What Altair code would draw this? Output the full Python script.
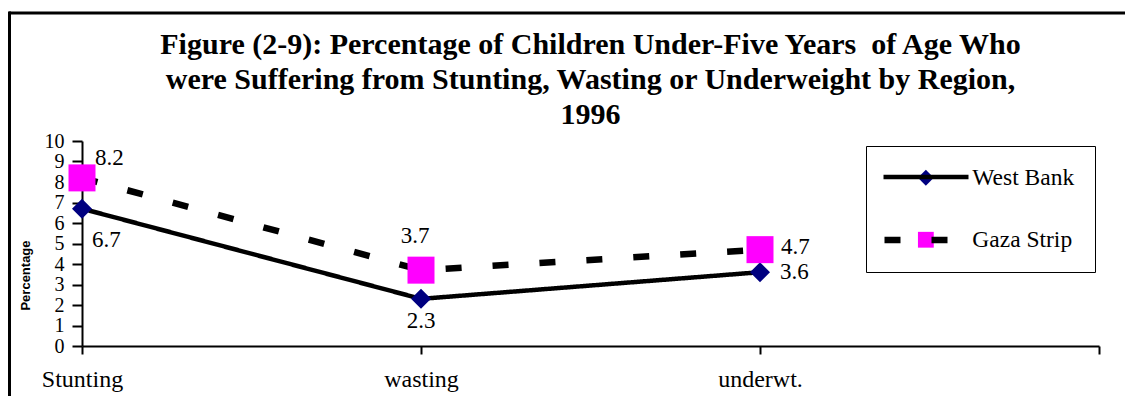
import altair as alt
import pandas as pd

categories = ["Stunting", "wasting", "underwt."]
west_bank = [6.7, 2.3, 3.6]
gaza_strip = [8.2, 3.7, 4.7]
series_names = ["West Bank", "Gaza Strip"]
y_ticks = [0, 1, 2, 3, 4, 5, 6, 7, 8, 9, 10]
title_lines = [
    "Figure (2-9): Percentage of Children Under-Five Years \u00a0of Age Who",
    "were Suffering from Stunting, Wasting or Underweight by Region,",
    "1996",
]

rows = []
for i, c in enumerate(categories):
    rows.append({"category": c, "series": series_names[0], "value": west_bank[i]})
    rows.append({"category": c, "series": series_names[1], "value": gaza_strip[i]})
df = pd.DataFrame(rows)

SERIF = "Liberation Serif, Times New Roman, serif"
SANS = "Liberation Sans, Arial, sans-serif"
W, H = 1017, 205

x_enc = alt.X(
    "category:N",
    scale=alt.Scale(type="point", domain=categories + [""], padding=0),
    axis=alt.Axis(title=None, labelAngle=0, labelFont=SERIF, labelFontSize=24,
                  labelColor="black", tickSize=8, tickWidth=2, tickColor="black",
                  domainColor="black", domainWidth=2, labelPadding=13, grid=False,
                  labelOverlap=False),
)
y_enc = alt.Y(
    "value:Q",
    scale=alt.Scale(domain=[0, 10], nice=False, zero=True),
    axis=alt.Axis(title="Percentage", values=y_ticks, labelFont=SERIF, labelFontSize=20,
                  labelColor="black", tickSize=10, tickWidth=2, tickColor="black",
                  domainColor="black", domainWidth=2, labelPadding=8, grid=False,
                  labelOverlap=False, labelBound=False,
                  titleFont=SANS, titleFontSize=13, titleFontWeight="bold",
                  titleColor="black", titleAngle=-90, titleX=-57, titleY=134,
                  titleAlign="center", titleBaseline="middle"),
)

base = alt.Chart(df)


def line_layer(name, dash, width, lx, ly):
    return base.transform_filter(alt.datum.series == name).mark_line(
        color="black", strokeWidth=width
    ).encode(
        x=x_enc,
        y=y_enc,
        strokeDash=alt.StrokeDash(
            "series:N",
            scale=alt.Scale(domain=[name], range=[dash]),
            legend=alt.Legend(orient="none", legendX=lx, legendY=ly, title=None,
                              padding=0, symbolType="stroke", symbolSize=85 * 85,
                              symbolStrokeColor="black", symbolStrokeWidth=width,
                              labelExpr="''", labelFontSize=21),
        ),
    )


pt_legend = alt.Legend(orient="none", legendX=784, legendY=5, title=None,
                       strokeColor="black", fillColor="white", padding=20,
                       symbolSize=250, symbolStrokeWidth=0, symbolOffset=28.1,
                       labelFont=SERIF, labelFontSize=23.5, labelColor="black",
                       labelOffset=34.7, rowPadding=37)


def point_layer(name, size):
    return base.transform_filter(alt.datum.series == name).mark_point(
        filled=True, size=size, opacity=1
    ).encode(
        x=x_enc,
        y=y_enc,
        shape=alt.Shape("series:N",
                        scale=alt.Scale(domain=series_names, range=["diamond", "square"]),
                        legend=pt_legend),
        fill=alt.Fill("series:N",
                      scale=alt.Scale(domain=series_names, range=["#000080", "#FF00FF"]),
                      legend=pt_legend),
    )


def label_layer(name, cat, align, dx, dy):
    return base.transform_filter(
        (alt.datum.series == name) & (alt.datum.category == cat)
    ).mark_text(font=SERIF, fontSize=23, color="black", align=align,
                baseline="middle", dx=dx, dy=dy).encode(
        x=x_enc, y=y_enc, text=alt.Text("value:Q", format=".1f")
    )


labels = [
    label_layer("Gaza Strip", "Stunting", "left", 13, -20),
    label_layer("West Bank", "Stunting", "left", 10, 31),
    label_layer("Gaza Strip", "wasting", "center", -6, -34),
    label_layer("West Bank", "wasting", "center", 0, 22),
    label_layer("Gaza Strip", "underwt.", "left", 21, -3),
    label_layer("West Bank", "underwt.", "left", 20, 0),
]

frame_data = alt.Data(values=[{"k": 1}])
frame_top = alt.Chart(frame_data).mark_rule(color="black", strokeWidth=3).encode(
    x=alt.value(-73), x2=alt.value(1060), y=alt.value(-128)
)
frame_left = alt.Chart(frame_data).mark_rule(color="black", strokeWidth=3).encode(
    x=alt.value(-72.5), y=alt.value(-129.5), y2=alt.value(270)
)

chart = alt.layer(
    line_layer("West Bank", [1, 0], 4.5, 799, -9),
    line_layer("Gaza Strip", [16, 31], 6.5, 799, 53),
    point_layer("West Bank", 400),
    point_layer("Gaza Strip", 729),
    *labels,
    frame_top,
    frame_left,
).resolve_scale(strokeDash="independent").resolve_legend(strokeDash="independent").properties(
    width=W,
    height=H,
    title=alt.TitleParams(text=title_lines, font=SERIF, fontSize=30, fontWeight="bold",
                          color="black", lineHeight=35, anchor="middle", frame="group",
                          dy=124),
    autosize=alt.AutoSizeParams(type="none"),
    padding={"left": 74, "top": 133, "right": 26, "bottom": 50},
    background="white",
).configure_view(stroke=None)

chart.save("out.html", embed_options={"renderer": "svg", "actions": False})
